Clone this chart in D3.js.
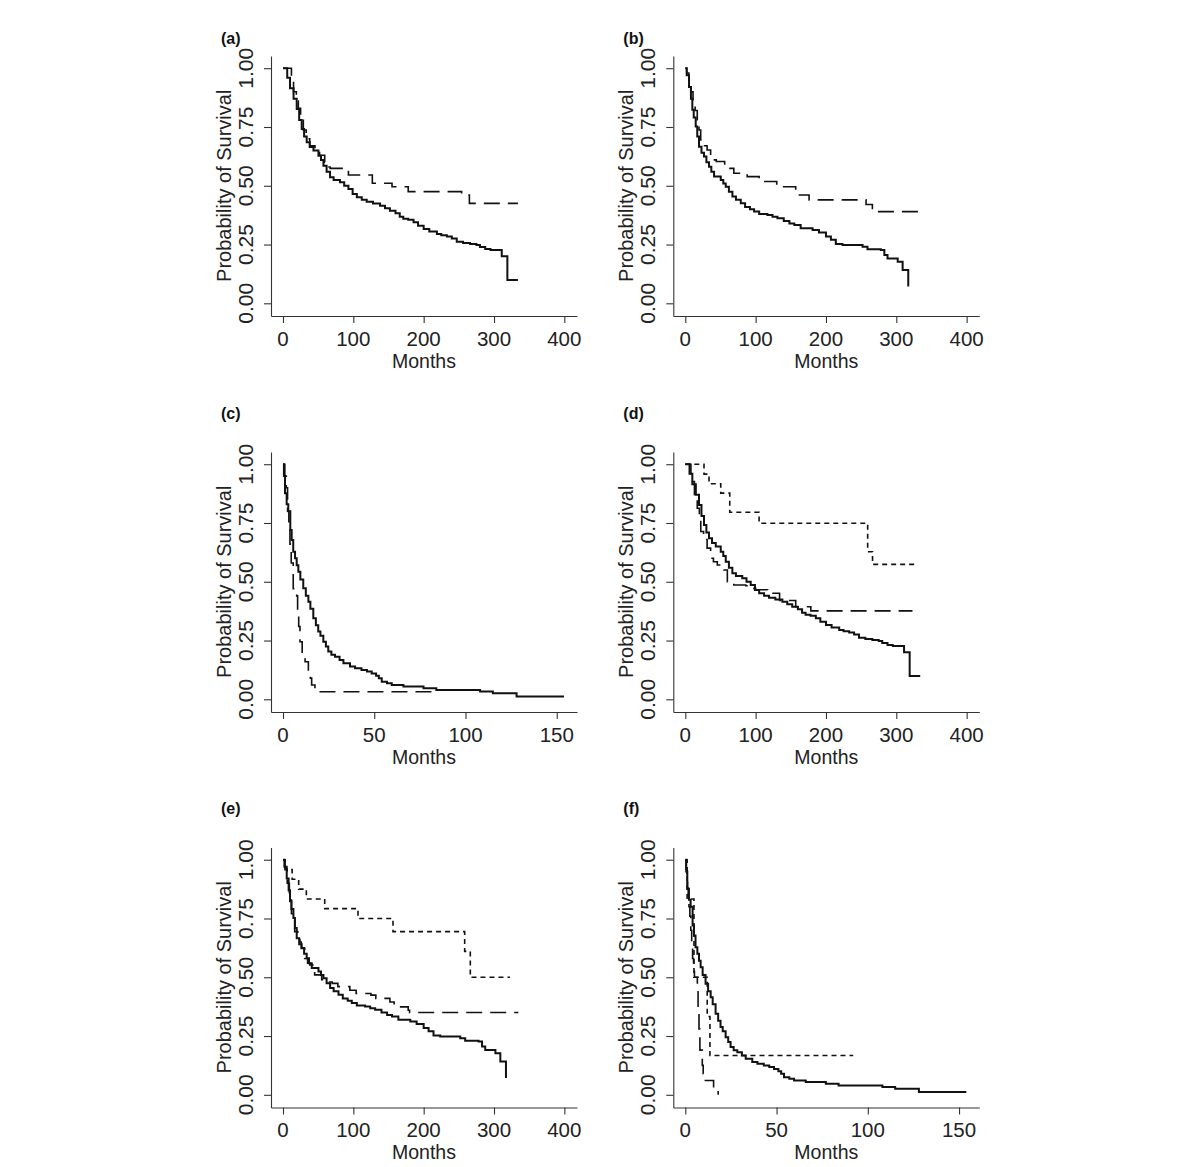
<!DOCTYPE html>
<html><head><meta charset="utf-8">
<script src="https://cdn.jsdelivr.net/npm/d3@7"></script>
<style>body{margin:0;background:#fff}</style>
</head><body><svg id="c" width="1200" height="1167"></svg>
<script>
// ---------- data (months, survival probability) ----------
const yTicks = [0, 0.25, 0.5, 0.75, 1];
const yTickLabels = ["0.00", "0.25", "0.50", "0.75", "1.00"];
const xTicksLong = [0, 100, 200, 300, 400];
const xTicksShort = [0, 50, 100, 150];
const panelLabels = ["(a)", "(b)", "(c)", "(d)", "(e)", "(f)"];
const yTitle = "Probability of Survival";
const xTitle = "Months";

const solidA = [[0,1],[3,1],[6,0.96],[10,0.915],[15,0.87],[19.5,0.827],[23,0.78],[26.6,0.741],[30,0.71],[33.7,0.685],[38,0.665],[43.3,0.65],[50.4,0.628],[54,0.61],[57.5,0.585],[62,0.56],[66.9,0.536],[72,0.525],[81,0.515],[87,0.5],[93,0.486],[99,0.465],[105,0.451],[112,0.44],[119,0.432],[128,0.425],[138,0.415],[145,0.404],[152,0.394],[160,0.383],[166,0.368],[171,0.36],[178,0.355],[185.6,0.345],[192,0.33],[200,0.316],[208,0.305],[218.8,0.295],[225,0.29],[233,0.284],[240,0.276],[247,0.262],[256,0.257],[266,0.252],[275,0.248],[280,0.24],[287.5,0.231],[295,0.227],[311,0.2],[319,0.099],[334,0.099]];
const dashA = [[0,1],[10,1],[12,0.95],[15,0.9],[19,0.86],[21.8,0.83],[25,0.78],[28.9,0.737],[33,0.7],[38,0.67],[45.5,0.652],[52,0.63],[59.3,0.6],[64,0.58],[67,0.574],[93,0.546],[127,0.511],[155,0.496],[178,0.475],[254,0.461],[265,0.425],[334,0.425]];

const solidB = [[0,1],[2,0.97],[5.3,0.92],[8,0.87],[10,0.823],[12,0.79],[14.8,0.752],[17,0.71],[19.5,0.666],[23,0.64],[26.6,0.624],[30,0.6],[33.7,0.581],[37,0.56],[40.9,0.539],[50.4,0.525],[54,0.51],[57.5,0.496],[62,0.475],[67,0.454],[72,0.44],[78.9,0.426],[85,0.41],[92,0.4],[97.8,0.39],[105,0.38],[116.7,0.376],[124,0.368],[131,0.362],[140,0.35],[148,0.34],[155,0.333],[164,0.319],[181,0.312],[190,0.301],[200,0.284],[207,0.27],[214,0.252],[223.5,0.248],[252,0.241],[259,0.23],[278,0.227],[283,0.206],[287.5,0.191],[302,0.177],[309,0.142],[317,0.071]];
const dashB = [[0,1],[2,0.98],[5,0.95],[8,0.9],[11,0.86],[14,0.82],[17,0.78],[19.5,0.737],[21.9,0.695],[26,0.67],[31,0.652],[36,0.61],[44,0.603],[56,0.574],[69,0.553],[88,0.539],[105,0.518],[130,0.496],[157,0.461],[176,0.44],[257,0.42],[266,0.39],[331,0.39]];

const solidC = [[0,1],[0.5,0.95],[1.1,0.877],[2,0.83],[2.9,0.8],[4,0.72],[4.75,0.678],[5.6,0.628],[6.6,0.6],[7.5,0.57],[8.4,0.543],[9.5,0.51],[11.1,0.472],[12.5,0.44],[13.9,0.415],[15,0.385],[16.6,0.345],[18,0.315],[19.3,0.288],[20.5,0.27],[22.1,0.245],[23.5,0.225],[24.8,0.203],[26.5,0.19],[28.5,0.181],[31,0.167],[33.1,0.153],[36.7,0.14],[39.5,0.132],[43,0.125],[46,0.118],[48.6,0.11],[51,0.1],[52.5,0.09],[54.1,0.075],[57,0.068],[59.6,0.061],[66,0.054],[77,0.047],[84,0.04],[108,0.033],[115,0.026],[128,0.012],[154,0.012]];
const dashC = [[0,1],[1,0.95],[1.8,0.9],[2.5,0.8],[3.2,0.72],[3.8,0.66],[4.5,0.58],[5.6,0.47],[7.5,0.44],[8,0.38],[8.6,0.31],[9.3,0.245],[10.5,0.2],[12.1,0.16],[13.9,0.117],[15,0.09],[15.7,0.061],[17.5,0.032],[82.4,0.032]];

const solidD = solidA;
const longD = [[0,1],[7,1],[8,0.96],[10,0.926],[13,0.87],[17,0.813],[20,0.76],[22,0.714],[26,0.68],[31,0.643],[36,0.6],[40,0.585],[45.5,0.571],[55,0.55],[59.8,0.5],[69,0.486],[86,0.483],[93,0.472],[100,0.466],[117,0.451],[134,0.42],[157,0.394],[178.5,0.376],[323,0.376]];
const shortD = [[0,1],[26.6,0.958],[33.7,0.917],[50.4,0.877],[63.2,0.796],[104.9,0.749],[259.3,0.628],[266.2,0.574],[328,0.574]];

const solidE = solidB;
const longE = [[0,1],[3,0.96],[6,0.9],[9,0.84],[12,0.77],[16.6,0.694],[21,0.68],[24,0.65],[26,0.623],[30.8,0.58],[35,0.56],[38,0.552],[45,0.51],[55,0.49],[59.3,0.48],[70,0.474],[78,0.46],[95,0.445],[104,0.431],[125,0.424],[132,0.41],[152,0.395],[158,0.374],[178,0.36],[180,0.35],[334.6,0.35]];
const shortE = [[0,1],[3,0.958],[13,0.917],[22.3,0.875],[33.2,0.833],[59.3,0.792],[106.6,0.75],[156.4,0.694],[258.3,0.61],[266.3,0.5],[322.7,0.5]];

const solidF = solidC;
const longF = [[0,1],[0.4,0.96],[0.8,0.92],[1.2,0.88],[1.6,0.84],[2,0.8],[2.5,0.76],[3,0.7],[3.5,0.64],[4,0.58],[4.5,0.53],[5,0.5],[6.6,0.445],[7,0.36],[7.5,0.28],[8,0.19],[9.3,0.125],[9.8,0.09],[11,0.061],[15.5,0.03],[18,0]];
const shortF = [[0,1],[1,0.833],[4.75,0.5],[12,0.333],[13.5,0.167],[92,0.167]];

// ---------- layout ----------
const colX = [271, 673.3];
const rowTop = [56, 452, 847.5];
const labelBase = [44, 418.5, 813.5];
const plotW = 306, plotH = 260;
const FONT = "'Liberation Sans', Arial, Helvetica, sans-serif";
const styles = {
  solid: {w: 2, dash: null},
  long:  {w: 1.6, dash: "16,8"},
  short: {w: 1.6, dash: "5,4"}
};

const panels = [
  {label: 0, col: 0, row: 0, kind: "long",  series: [[solidA,"solid"],[dashA,"long"]]},
  {label: 1, col: 1, row: 0, kind: "long",  series: [[solidB,"solid"],[dashB,"long"]]},
  {label: 2, col: 0, row: 1, kind: "short", series: [[solidC,"solid"],[dashC,"long"]]},
  {label: 3, col: 1, row: 1, kind: "long",  series: [[solidD,"solid"],[longD,"long"],[shortD,"short"]]},
  {label: 4, col: 0, row: 2, kind: "long",  series: [[solidE,"solid"],[longE,"long"],[shortE,"short"]]},
  {label: 5, col: 1, row: 2, kind: "short", series: [[solidF,"solid"],[longF,"long"],[shortF,"short"]]}
];

const svg = d3.select("#c");

panels.forEach(p => {
  const x0 = colX[p.col], top = rowTop[p.row], bottom = top + plotH;
  const xDomain = p.kind === "long" ? [-17.06, 418] : [-6.58, 161.1];
  const xTicks = p.kind === "long" ? xTicksLong : xTicksShort;
  const x = d3.scaleLinear().domain(xDomain).range([x0, x0 + plotW]);
  const y = d3.scaleLinear().domain([-0.054, 1.052]).range([bottom, top]);
  const g = svg.append("g");

  // axes
  const ax = g.append("g").attr("transform", `translate(0,${bottom})`)
    .call(d3.axisBottom(x).tickValues(xTicks).tickSize(7).tickSizeOuter(0).tickFormat(""));
  const ay = g.append("g").attr("transform", `translate(${x0},0)`)
    .call(d3.axisLeft(y).tickValues(yTicks).tickSize(7).tickSizeOuter(0).tickFormat(""));
  [ax, ay].forEach(a => {
    a.selectAll("path,line").attr("stroke", "#333").attr("stroke-width", 1.1);
  });

  // x tick labels
  g.selectAll(".xl").data(xTicks).enter().append("text")
    .attr("x", d => x(d)).attr("y", bottom + 29.5)
    .attr("text-anchor", "middle").attr("font-family", FONT).attr("font-size", 20.5)
    .attr("fill", "#222").text(d => d);
  // y tick labels (rotated)
  g.selectAll(".yl").data(yTicks).enter().append("text")
    .attr("transform", d => `translate(${x0 - 18.3},${y(d)}) rotate(-90)`)
    .attr("text-anchor", "middle").attr("font-family", FONT).attr("font-size", 21)
    .attr("fill", "#222").text((d, i) => yTickLabels[i]);
  // titles
  g.append("text").attr("x", x0 + plotW / 2).attr("y", bottom + 51.5)
    .attr("text-anchor", "middle").attr("font-family", FONT).attr("font-size", 19.5)
    .attr("fill", "#222").text(xTitle);
  g.append("text").attr("transform", `translate(${x0 - 40},${(y(0) + y(1)) / 2}) rotate(-90)`)
    .attr("text-anchor", "middle").attr("font-family", FONT).attr("font-size", 20)
    .attr("fill", "#222").text(yTitle);
  // panel label
  g.append("text").attr("x", x0 - 50).attr("y", labelBase[p.row])
    .attr("font-family", FONT).attr("font-size", 16).attr("font-weight", "bold")
    .attr("fill", "#111").text(panelLabels[p.label]);

  // curves
  const line = d3.line().x(d => x(d[0])).y(d => y(d[1])).curve(d3.curveStepAfter);
  p.series.slice().reverse().forEach(([data, st]) => {
    const s = styles[st];
    g.append("path").datum(data).attr("d", line)
      .attr("fill", "none").attr("stroke", "#111").attr("stroke-width", s.w)
      .attr("stroke-dasharray", s.dash);
  });
});
</script>
</body></html>
